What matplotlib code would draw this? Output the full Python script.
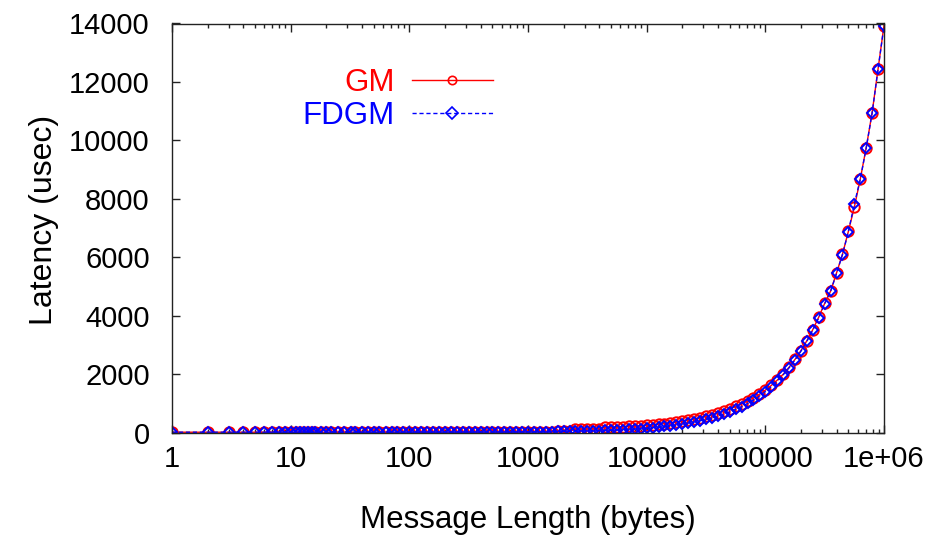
import matplotlib
matplotlib.use('Agg')
from matplotlib import pyplot as plt
from matplotlib.ticker import LogLocator, NullFormatter

plt.rcParams['font.family'] = ['Liberation Sans', 'DejaVu Sans']

# message sizes (bytes)
sizes = [1, 2, 3, 4, 5, 6, 7, 8, 9, 10, 11, 12, 13, 14, 15, 16,
         18, 20, 22, 25, 28, 32, 35, 40, 45, 50, 56, 63, 71, 79, 89,
         100, 112, 126, 141, 158, 178, 200, 224, 251, 282, 316, 355, 398, 447, 501,
         562, 631, 708, 794, 891, 1000, 1122, 1259, 1413, 1585, 1778, 1995, 2239, 2512,
         2818, 3162, 3548, 3981, 4467, 5012, 5623, 6310, 7079, 7943, 8913,
         10000, 11220, 12589, 14125, 15849, 17783, 19953, 22387, 25119, 28184,
         31623, 35481, 39811, 44668, 50119, 56234, 63096, 70795, 79433, 89125,
         100000, 112202, 125893, 141254, 158489, 177828, 199526, 223872, 251189, 281838,
         316228, 354813, 398107, 446684, 501187, 562341, 630957, 707946, 794328, 891251,
         1000000]

# latency (usec)
fdgm = [10.0, 10.0, 10.0, 10.1, 10.1, 10.1, 10.1, 10.1, 10.1, 10.1, 10.2, 10.2, 10.2, 10.2, 10.2, 10.2,
        10.3, 10.3, 10.3, 10.3, 10.4, 10.4, 10.5, 10.6, 10.6, 10.7, 10.8, 10.9, 11.0, 11.1, 11.2,
        11.4, 11.6, 11.8, 12.0, 12.2, 12.5, 12.8, 13.1, 13.5, 13.9, 14.4, 14.9, 15.5, 16.2, 17.0,
        17.8, 18.8, 19.8, 21.0, 22.4, 23.9, 25.6, 27.5, 29.6, 32.0, 34.7, 37.7, 41.1, 44.9,
        49.2, 54.0, 59.3, 65.3, 72.1, 79.7, 88.2, 97.7, 108.4, 120.4, 133.9,
        149, 166, 185, 206, 230, 257, 287, 321, 359, 402,
        450, 503, 563, 631, 707, 792, 887, 994, 1114, 1249,
        1400, 1570, 1760, 1973, 2213, 2482, 2783, 3122, 3502, 3928,
        4406, 4830, 5448, 6089, 6878, 7828, 8662, 9736, 10937, 12436,
        13921]
gm = [9.8, 9.8, 9.8, 9.9, 9.9, 9.9, 9.9, 9.9, 9.9, 9.9, 10.0, 10.0, 10.0, 10.0, 10.0, 10.0,
      10.1, 10.1, 10.1, 10.1, 10.2, 10.2, 10.3, 10.4, 10.4, 10.5, 10.6, 10.7, 10.8, 10.9, 11.0,
      11.2, 11.4, 11.6, 11.8, 12.0, 12.3, 12.6, 12.9, 13.3, 13.7, 14.2, 14.7, 15.3, 16.0, 16.8,
      17.6, 18.6, 19.6, 20.8, 22.2, 23.7, 25.4, 27.3, 29.4, 31.8, 34.5, 37.5, 40.9, 115,
      119, 124, 129, 135, 172, 180, 188, 198, 208, 220, 234,
      249, 266, 285, 306, 330, 357, 387, 421, 459, 502,
      550, 603, 663, 731, 807, 892, 977, 1074, 1184, 1309,
      1450, 1610, 1790, 1993, 2233, 2502, 2803, 3142, 3522, 3948,
      4420, 4840, 5460, 6100, 6890, 7712, 8675, 9748, 10950, 12445,
      13930]

xticks = [1, 10, 100, 1000, 10000, 100000, 1000000]
xticklabels = ['1', '10', '100', '1000', '10000', '100000', '1e+06']
yticks = [0, 2000, 4000, 6000, 8000, 10000, 12000, 14000]

fig = plt.figure(figsize=(9.32, 5.36), dpi=100)
ax = fig.add_axes([172 / 932, 1 - 432.5 / 536, (884 - 172) / 932, (432.5 - 23.5) / 536])

ax.plot(sizes, gm, color='red', lw=1.0, marker='o', ms=7.5, mfc='none', mec='red', mew=1.4, label='GM')
ax.plot(sizes, fdgm, color='blue', lw=1.0, ls=(0, (3, 2)), marker='D', ms=5.5, mfc='none', mec='blue',
        mew=1.4, label='FDGM')

ax.set_xscale('log')
ax.set_xlim(1, 1e6)
ax.set_ylim(0, 14000)
ax.set_xticks(xticks)
ax.set_xticklabels(xticklabels)
ax.xaxis.set_minor_locator(LogLocator(base=10, subs=range(2, 10), numticks=20))
ax.xaxis.set_minor_formatter(NullFormatter())
ax.set_yticks(yticks)

ax.tick_params(which='both', direction='in', top=True, right=True, colors='#222222', labelcolor='black')
ax.tick_params(which='major', length=6, width=1, labelsize=21)
ax.tick_params(which='minor', length=3, width=1)
ax.tick_params(axis='x', pad=9)
ax.tick_params(axis='y', pad=16)
for sp in ax.spines.values():
    sp.set_color('#222222')
    sp.set_linewidth(1)

ax.set_xlabel('Message Length (bytes)', fontsize=22.5, labelpad=23)
ax.set_ylabel('Latency (usec)', fontsize=23, labelpad=7)
ax.yaxis.label.set_y(0.52)

leg = ax.legend(loc='upper right', bbox_to_anchor=(493 / 932, 1 - 68 / 536), bbox_transform=fig.transFigure,
                frameon=False, markerfirst=False, fontsize=22.5, handlelength=2.6, handletextpad=0.55,
                labelspacing=0.1, borderpad=0, borderaxespad=0, labelcolor='linecolor', numpoints=1)
for h in leg.legend_handles:
    h.set_markersize(6)
    h.set_markeredgewidth(1.2)

fig.savefig('out.png', dpi=100)
